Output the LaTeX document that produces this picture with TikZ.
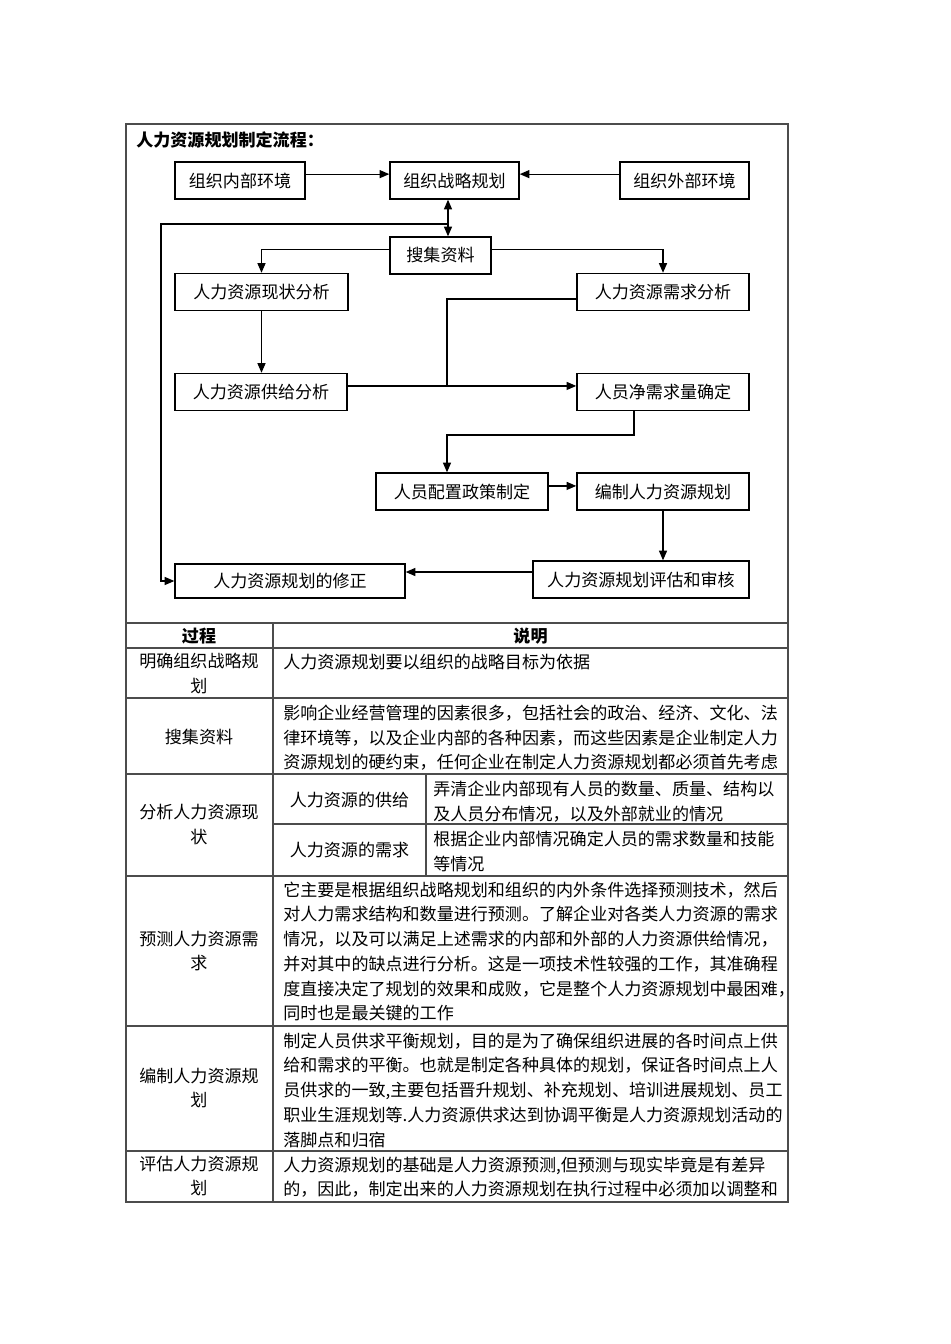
\documentclass[tikz,border=0pt]{standalone}
\usepackage{fontspec}
\setmainfont{Noto Sans CJK SC}
\usepackage{tikz}
\usetikzlibrary{arrows.meta}

\tikzset{
	box/.style={draw, line width=0.9pt, inner sep=0pt, minimum height=23.2pt},
	link/.style={line width=0.75pt},
	rule/.style={draw=black!70, line width=0.7pt},
	txt/.style={anchor=north west, align=left, inner sep=0pt},
	lbl/.style={align=center, inner sep=0pt},
	head/.style={font=\fontsize{10.7pt}{15.5pt}\selectfont\bfseries, inner sep=0pt}
}

\begin{document}
\begin{tikzpicture}[x=0.6275pt, y=-0.6275pt, font=\fontsize{10.7pt}{15.5pt}\selectfont, >={Triangle[length=6pt,width=5pt]}]
		\useasboundingbox (0,0) rectangle (950,1344);
		\draw[rule] (126,124) rectangle (788,1202);
		\foreach \y in {623,648,698,774,876,1026,1151} {
			\draw[rule] (126,\y) -- (788,\y);
		}
		\draw[rule] (273,623) -- (273,1202);
		\draw[rule] (426,774) -- (426,876);
		\draw[rule] (273,824) -- (788,824);

		\node[head, anchor=west] (title) at (136,140) {人力资源规划制定流程：};
		\node[box, minimum width=81.6pt] (inner) at (240,180.5) {组织内部环境};
		\node[box, minimum width=81pt] (plan) at (454.5,180.5) {组织战略规划};
		\node[box, minimum width=81pt] (outer) at (684.5,180.5) {组织外部环境};
		\node[box, minimum width=63.4pt] (collect) at (440.5,255.5) {搜集资料};
		\node[box, minimum width=108.6pt] (status) at (261.5,292) {人力资源现状分析};
		\node[box, minimum width=108pt] (demand) at (663,292) {人力资源需求分析};
		\node[box, minimum width=108pt] (supply) at (261,392) {人力资源供给分析};
		\node[box, minimum width=108pt] (net) at (663,392) {人员净需求量确定};
		\node[box, minimum width=108pt] (policy) at (462,491.5) {人员配置政策制定};
		\node[box, minimum width=108pt] (compile) at (663,491.5) {编制人力资源规划};
		\node[box, minimum width=135.5pt] (review) at (641,579.5) {人力资源规划评估和审核};
		\node[box, minimum width=144.3pt, minimum height=21.3pt] (revise) at (290,581) {人力资源规划的修正};

		\coordinate (hub) at (448,224);
		\coordinate (loop) at (161,224);
		\coordinate (join) at (447,386);
		\coordinate (bend) at (447,435);

		\draw[link, ->] ([yshift=4pt]inner.east) -- ([yshift=4pt]plan.west);
		\draw[link, ->] ([yshift=4pt]outer.west) -- ([yshift=4pt]plan.east);
		\draw[link, <->] (plan.south -| hub) -- (collect.north -| hub);
		\draw[link, ->] (hub) -- (loop) |- (revise.west);
		\draw[link, ->] ([yshift=4pt]collect.west) -| (status.north);
		\draw[link, ->] ([yshift=4pt]collect.east) -| (demand.north);
		\draw[link, ->] (status.south) -- (status.south |- supply.north);
		\draw[link, ->] ([yshift=3.8pt]supply.east) -- ([yshift=3.8pt]net.west);
		\draw[link] ([yshift=-4.4pt]demand.west) -| (join);
		\draw[link, ->] ([xshift=-18.2pt]net.south) |- (bend) -- (bend |- policy.north);
		\draw[link, ->] ([yshift=3.5pt]policy.east) -- ([yshift=3.5pt]compile.west);
		\draw[link, ->] (compile.south) -- (compile.south |- review.north);
		\draw[link, ->] ([yshift=4.7pt]review.west) -- ([yshift=4.7pt]review.west -| revise.east);

		\node[head] (hproc) at (199,636) {过程};
		\node[head] (hnote) at (530.5,636) {说明};

		\node[lbl] (p1) at (199,673.5) {明确组织战略规\\划};
		\node[txt] (d1) at (283,653.5) {人力资源规划要以组织的战略目标为依据};
		\node[lbl] (p2) at (199,737) {搜集资料};
		\node[txt] (d2) at (283,704.5) {影响企业经营管理的因素很多，包括社会的政治、经济、文化、法\\律环境等，以及企业内部的各种因素，而这些因素是企业制定人力\\资源规划的硬约束，任何企业在制定人力资源规划都必须首先考虑};
		\node[lbl] (p3) at (199,824.5) {分析人力资源现\\状};
		\node[lbl] (s1) at (349.5,800) {人力资源的供给};
		\node[lbl] (s2) at (349.5,850) {人力资源的需求};
		\node[txt] (d3) at (433,780.5) {弄清企业内部现有人员的数量、质量、结构以\\及人员分布情况，以及外部就业的情况};
		\node[txt] (d4) at (433,830.5) {根据企业内部情况确定人员的需求数量和技能\\等情况};
		\node[lbl] (p4) at (199,951) {预测人力资源需\\求};
		\node[txt] (d5) at (283,881.5) {它主要是根据组织战略规划和组织的内外条件选择预测技术，然后\\对人力需求结构和数量进行预测。了解企业对各类人力资源的需求\\情况，以及可以满足上述需求的内部和外部的人力资源供给情况，\\并对其中的缺点进行分析。这是一项技术性较强的工作，其准确程\\度直接决定了规划的效果和成败，它是整个人力资源规划中最困难，\\同时也是最关键的工作};
		\node[lbl] (p5) at (199,1088) {编制人力资源规\\划};
		\node[txt] (d6) at (283,1032.5) {制定人员供求平衡规划，目的是为了确保组织进展的各时间点上供\\给和需求的平衡。也就是制定各种具体的规划，保证各时间点上人\\员供求的一致,主要包括晋升规划、补充规划、培训进展规划、员工\\职业生涯规划等.人力资源供求达到协调平衡是人力资源规划活动的\\落脚点和归宿};
		\node[lbl] (p6) at (199,1176) {评估人力资源规\\划};
		\node[txt] (d7) at (283,1156.5) {人力资源规划的基础是人力资源预测,但预测与现实毕竟是有差异\\的，因此，制定出来的人力资源规划在执行过程中必须加以调整和};
\end{tikzpicture}
\end{document}
